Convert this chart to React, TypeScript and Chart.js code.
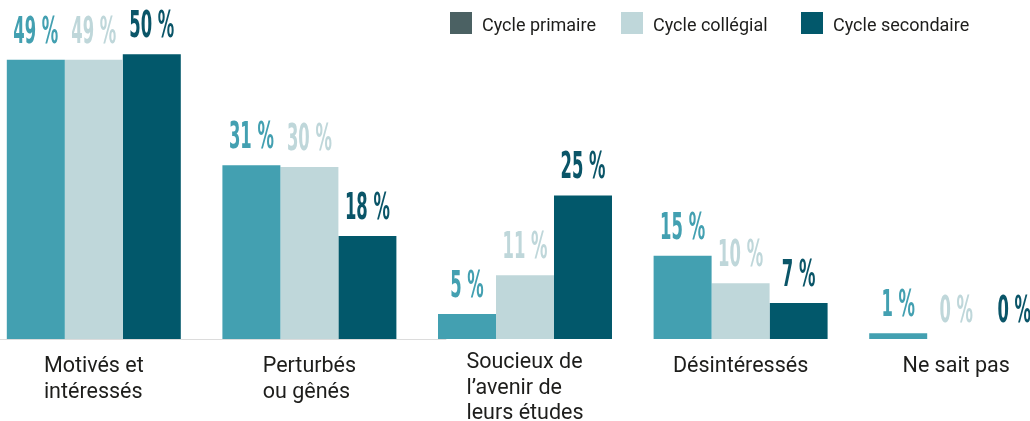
import React, { useEffect, useRef } from "react";
import { Chart, registerables } from "chart.js";

Chart.register(...registerables);

// ---- data ----
const categories: string[][] = [
  ["Motivés et", "intéressés"],
  ["Perturbés", "ou gênés"],
  ["Soucieux de", "l’avenir de", "leurs études"],
  ["Désintéressés"],
  ["Ne sait pas"],
];
const seriesNames = ["Cycle primaire", "Cycle collégial", "Cycle secondaire"];
const primaire = [49, 30.5, 4.4, 14.6, 1.0];
const collegial = [49, 30.2, 11.2, 9.8, 0];
const secondaire = [50, 18.1, 25.2, 6.3, 0];
const primaireLabels = ["49 %", "31 %", "5 %", "15 %", "1 %"];
const collegialLabels = ["49 %", "30 %", "11 %", "10 %", "0 %"];
const secondaireLabels = ["50 %", "18 %", "25 %", "7 %", "0 %"];

// ---- styles ----
const barColors = ["#43a0b1", "#bfd7da", "#02586b"];
const labelColors = ["#43a0b1", "#bfd7da", "#0a5568"];
const legendColors = ["#4b6163", "#bfd7da", "#02586b"];
const CANVAS_LEFT = -14;
const CANVAS_W = 1078;
const CANVAS_H = 421;
const legendSquareX = [450, 621, 801]; // page coords
const VALUE_FONT = 'bold 37px "Liberation Sans Narrow", "DejaVu Sans Condensed", sans-serif';
const CAT_FONT = '21.5px Roboto, "Noto Sans", sans-serif';

const allLabels = [primaireLabels, collegialLabels, secondaireLabels];

const valueLabelPlugin = {
  id: "valueLabels",
  afterDatasetsDraw(chart: any) {
    const ctx = chart.ctx;
    ctx.save();
    ctx.font = VALUE_FONT;
    const sx = 45 / ctx.measureText("49 %").width;
    ctx.restore();
    chart.data.datasets.forEach((_ds: any, i: number) => {
      const meta = chart.getDatasetMeta(i);
      meta.data.forEach((el: any, j: number) => {
        ctx.save();
        ctx.font = VALUE_FONT;
        ctx.fillStyle = labelColors[i];
        ctx.textAlign = "center";
        ctx.textBaseline = "alphabetic";
        ctx.translate(el.x, el.y - 17);
        ctx.scale(sx, 1);
        ctx.fillText(allLabels[i][j], 0, 0);
        ctx.restore();
      });
    });
  },
};

const categoryLabelPlugin = {
  id: "categoryLabels",
  afterDraw(chart: any) {
    const ctx = chart.ctx;
    const x = chart.scales.x;
    const bottom = chart.chartArea.bottom;
    ctx.save();
    ctx.font = CAT_FONT;
    ctx.fillStyle = "#1d1d1b";
    ctx.textAlign = "left";
    ctx.textBaseline = "alphabetic";
    categories.forEach((lines, i) => {
      const cx = x.getPixelForValue(i);
      const w = Math.max(...lines.map((l) => ctx.measureText(l).width));
      const left = cx - w / 2;
      const first = bottom + 33 - (lines.length > 2 ? 4 : 0);
      lines.forEach((l, k) => {
        ctx.fillText(l, left, first + k * 25.5);
      });
    });
    ctx.restore();
  },
};

const axisLinePlugin = {
  id: "partialAxisLine",
  beforeDatasetsDraw(chart: any) {
    const ctx = chart.ctx;
    const x = chart.scales.x;
    const p1 = x.getPixelForValue(1);
    const p2 = x.getPixelForValue(2);
    const end = p1 + (p2 - p1) * 0.635;
    const y = chart.chartArea.bottom + 0.5;
    ctx.save();
    ctx.strokeStyle = "#dcdcdc";
    ctx.lineWidth = 1;
    ctx.beginPath();
    ctx.moveTo(-CANVAS_LEFT, y);
    ctx.lineTo(end, y);
    ctx.stroke();
    ctx.restore();
  },
};

const legendPlugin = {
  id: "customLegend",
  afterDraw(chart: any) {
    const ctx = chart.ctx;
    ctx.save();
    ctx.font = '18px Roboto, "Noto Sans", sans-serif';
    ctx.textBaseline = "alphabetic";
    ctx.textAlign = "left";
    seriesNames.forEach((name, i) => {
      const sx = legendSquareX[i] - CANVAS_LEFT;
      ctx.fillStyle = legendColors[i];
      ctx.fillRect(sx, 12, 22, 22);
      ctx.fillStyle = "#1d1d1b";
      ctx.fillText(name, sx + 32, 31);
    });
    ctx.restore();
  },
};

export default function App() {
  const ref = useRef<HTMLCanvasElement | null>(null);
  useEffect(() => {
    if (!ref.current) return;
    const chart = new Chart(ref.current, {
      type: "bar",
      data: {
        labels: categories,
        datasets: [
          { label: seriesNames[0], data: primaire, backgroundColor: barColors[0] },
          { label: seriesNames[1], data: collegial, backgroundColor: barColors[1] },
          { label: seriesNames[2], data: secondaire, backgroundColor: barColors[2] },
        ],
      },
      options: {
        responsive: false,
        animation: false,
        layout: { padding: 0 },
        datasets: {
          bar: { categoryPercentage: 0.807, barPercentage: 1.0, borderWidth: 0 },
        },
        plugins: {
          legend: { display: false },
          tooltip: { enabled: false },
        },
        scales: {
          x: {
            grid: { display: false, drawTicks: false },
            border: { display: false },
            afterFit: (scale: any) => {
              scale.height = 82;
            },
            ticks: { display: false },
          },
          y: {
            display: false,
            min: 0,
            max: 59.5,
          },
        },
      },
      plugins: [axisLinePlugin, valueLabelPlugin, categoryLabelPlugin, legendPlugin],
    });
    let alive = true;
    Promise.all([
      document.fonts.load('bold 37px "Liberation Sans Narrow"'),
      document.fonts.load("21.5px Roboto"),
    ])
      .catch(() => null)
      .then(() => {
        if (alive) chart.update();
      });
    return () => {
      alive = false;
      chart.destroy();
    };
  }, []);

  return (
    <div
      style={{
        position: "fixed",
        left: 0,
        top: 0,
        width: 1030,
        height: 421,
        overflow: "hidden",
        background: "#fff",
      }}
    >
      <div style={{ position: "absolute", left: CANVAS_LEFT, top: 0, width: CANVAS_W, height: CANVAS_H }}>
        <canvas ref={ref} width={CANVAS_W} height={CANVAS_H} style={{ display: "block" }} />
      </div>
    </div>
  );
}
